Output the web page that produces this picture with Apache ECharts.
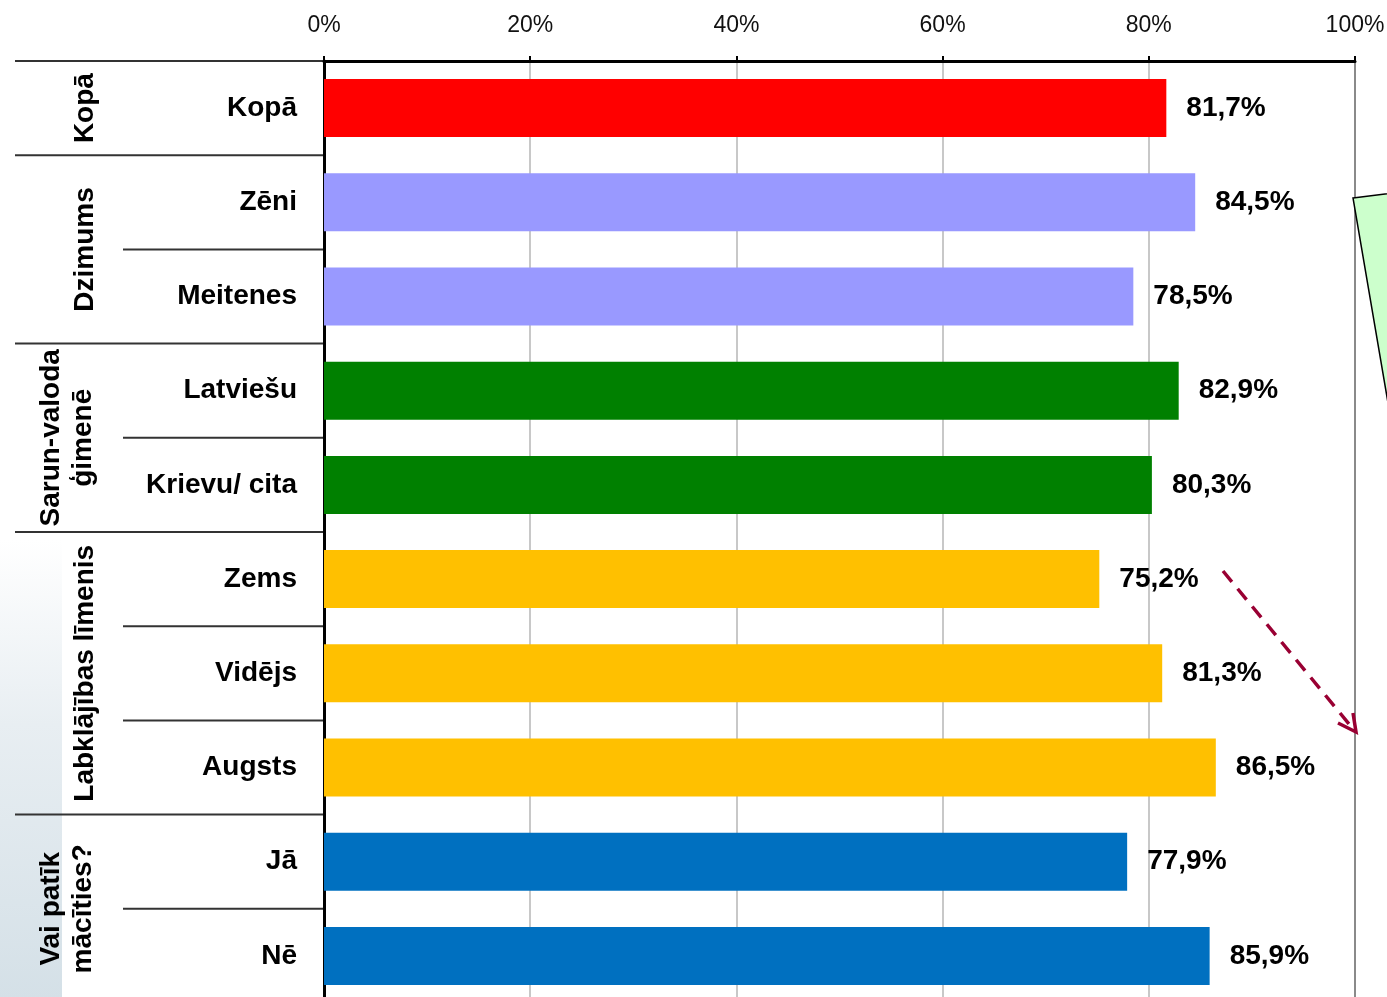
<!DOCTYPE html>
<html>
<head>
<meta charset="utf-8">
<script src="https://cdn.jsdelivr.net/npm/echarts@6/dist/echarts.min.js"></script>
<style>
  html, body { margin: 0; padding: 0; background: #fff; }
  #chart { width: 1387px; height: 997px; }
</style>
</head>
<body>
<div id="chart"></div>
<script>
const categories = ['Kopā', 'Zēni', 'Meitenes', 'Latviešu', 'Krievu/ cita', 'Zems', 'Vidējs', 'Augsts', 'Jā', 'Nē'];
const values = [81.7, 84.5, 78.5, 82.9, 80.3, 75.2, 81.3, 86.5, 77.9, 85.9];
const groupNames = ['Kopā', 'Dzimums', 'Sarun-valoda\nģimenē', 'Labklājības līmenis', 'Vai patīk\nmācīties?'];
const groupSizes = [1, 2, 2, 3, 2];
const groupColors = ['#ff0000', '#9999ff', '#008000', '#ffc000', '#0070c0'];
const xTicks = [0, 20, 40, 60, 80, 100];

const FONT = '"Liberation Sans", Arial, sans-serif';

// colour of each bar comes from its group
const barColors = [];
groupSizes.forEach((n, g) => { for (let i = 0; i < n; i++) barColors.push(groupColors[g]); });

const chart = echarts.init(document.getElementById('chart'));

chart.setOption({
  animation: false,
  textStyle: { fontFamily: FONT },
  grid: { left: 324, top: 61, width: 1031, height: 942, outerBoundsMode: 'none', containLabel: false },
  xAxis: {
    type: 'value',
    position: 'top',
    min: xTicks[0],
    max: xTicks[xTicks.length - 1],
    interval: 20,
    axisLine: { show: true, lineStyle: { color: '#000', width: 3 } },
    axisTick: { show: true, length: 5, lineStyle: { color: '#000', width: 2 } },
    axisLabel: { color: '#111', fontSize: 23, margin: 24, formatter: '{value}%' },
    splitLine: {
      show: true,
      lineStyle: { color: ['transparent', '#c8c8c8', '#c8c8c8', '#c8c8c8', '#c8c8c8', '#8a8a8a'], width: 2 }
    }
  },
  yAxis: {
    type: 'category',
    inverse: true,
    data: categories,
    axisLine: { show: true, lineStyle: { color: '#000', width: 3 } },
    axisTick: { show: false },
    axisLabel: { color: '#000', fontSize: 28, fontWeight: 'bold', margin: 27 }
  },
  series: [{
    type: 'bar',
    barWidth: 58,
    data: values.map((v, i) => ({ value: v, itemStyle: { color: barColors[i] } })),
    label: {
      show: true,
      position: 'right',
      distance: 20,
      color: '#000',
      fontSize: 28,
      fontWeight: 'bold',
      formatter: p => p.value.toFixed(1).replace('.', ',') + '%'
    }
  }]
});

// left-hand table: separator lines and rotated group titles
function drawTable() {
  const rowY = i => chart.convertToPixel({ yAxisIndex: 0 }, i);
  const step = rowY(1) - rowY(0);
  const axisX = chart.convertToPixel({ xAxisIndex: 0 }, 0);
  const els = [];

  // soft background patch at the bottom-left
  els.push({
    type: 'rect', z: -10, silent: true,
    shape: { x: 0, y: 540, width: 62, height: 460 },
    style: {
      fill: new echarts.graphic.LinearGradient(0, 0, 0, 1, [
        { offset: 0, color: '#ffffff' },
        { offset: 0.4, color: '#e8eef2' },
        { offset: 1, color: '#d4e0e7' }
      ])
    }
  });

  let start = 0;
  groupSizes.forEach((n, g) => {
    const top = rowY(start) - step / 2;
    els.push({
      type: 'line', silent: true,
      shape: { x1: 15, y1: top, x2: axisX, y2: top },
      style: { stroke: '#333', lineWidth: 2 }
    });
    for (let k = 1; k < n; k++) {
      const y = rowY(start + k) - step / 2;
      els.push({
        type: 'line', silent: true,
        shape: { x1: 123, y1: y, x2: axisX, y2: y },
        style: { stroke: '#333', lineWidth: 2 }
      });
    }
    const twoLines = groupNames[g].indexOf('\n') >= 0;
    els.push({
      type: 'text', silent: true,
      x: twoLines ? 67 : 85,
      y: (rowY(start) + rowY(start + n - 1)) / 2,
      rotation: Math.PI / 2,
      style: {
        text: groupNames[g],
        textAlign: 'center',
        textVerticalAlign: 'middle',
        lineHeight: 32,
        font: 'bold 28px ' + FONT,
        fill: '#000'
      }
    });
    start += n;
  });

  // callout shape cut by the right edge
  els.push({
    type: 'polygon', silent: true,
    shape: { points: [[1353, 198], [1400, 192], [1400, 473]] },
    style: { fill: '#ccffcc', stroke: '#000', lineWidth: 1.5 }
  });

  // dashed arrow
  els.push({
    type: 'line', silent: true,
    shape: { x1: 1223, y1: 571, x2: 1354, y2: 730 },
    style: { stroke: '#990033', lineWidth: 3.5, lineDash: [14, 9] }
  });
  els.push({
    type: 'polyline', silent: true,
    shape: { points: [[1338, 723], [1356, 732], [1353, 713]] },
    style: { stroke: '#990033', lineWidth: 3.5, fill: null }
  });

  chart.setOption({ graphic: { elements: els } });
}

drawTable();
window.addEventListener('resize', () => { chart.resize(); drawTable(); });
</script>
</body>
</html>
